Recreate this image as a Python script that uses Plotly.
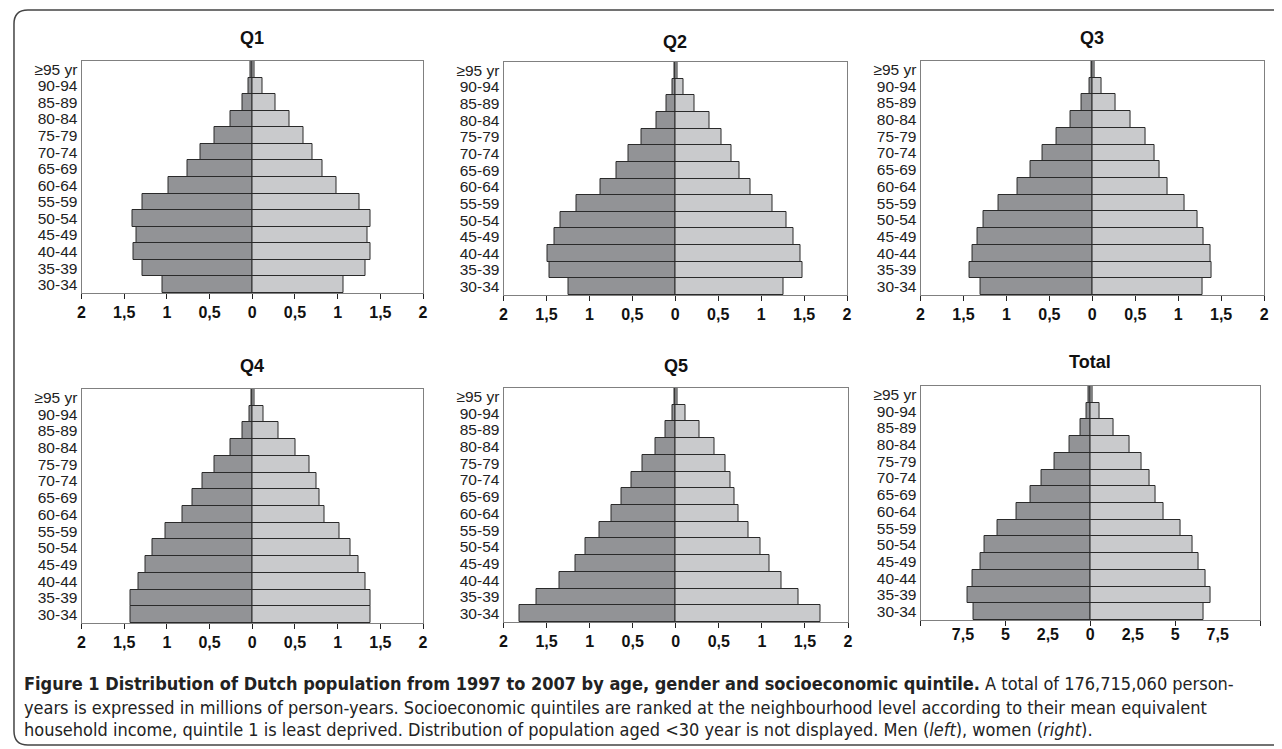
import plotly.graph_objects as go

OFF = 8                    # page body margin of the exported html
W, H = 1282 - OFF, 749 - OFF

age_groups = ["30-34", "35-39", "40-44", "45-49", "50-54", "55-59", "60-64",
              "65-69", "70-74", "75-79", "80-84", "85-89", "90-94", "≥95 yr"]

panel_titles = ["Q1", "Q2", "Q3", "Q4", "Q5", "Total"]

# millions of person-years, listed from 30-34 up to >=95
men_q1 = [1.05, 1.28, 1.39, 1.36, 1.40, 1.28, 0.98, 0.76, 0.61, 0.44, 0.26, 0.11, 0.04, 0.02]
women_q1 = [1.07, 1.33, 1.39, 1.35, 1.39, 1.26, 0.99, 0.82, 0.71, 0.60, 0.43, 0.27, 0.12, 0.03]
men_q2 = [1.24, 1.47, 1.49, 1.41, 1.34, 1.15, 0.87, 0.69, 0.55, 0.39, 0.22, 0.10, 0.03, 0.01]
women_q2 = [1.26, 1.48, 1.46, 1.38, 1.30, 1.13, 0.88, 0.75, 0.65, 0.54, 0.40, 0.22, 0.10, 0.03]
men_q3 = [1.30, 1.43, 1.40, 1.34, 1.27, 1.09, 0.87, 0.72, 0.58, 0.42, 0.25, 0.12, 0.03, 0.01]
women_q3 = [1.28, 1.39, 1.38, 1.30, 1.23, 1.07, 0.87, 0.78, 0.72, 0.62, 0.45, 0.27, 0.11, 0.03]
men_q4 = [1.43, 1.43, 1.33, 1.25, 1.17, 1.02, 0.82, 0.70, 0.58, 0.44, 0.26, 0.12, 0.03, 0.01]
women_q4 = [1.38, 1.38, 1.32, 1.24, 1.15, 1.02, 0.85, 0.79, 0.75, 0.67, 0.51, 0.31, 0.13, 0.03]
men_q5 = [1.82, 1.62, 1.35, 1.16, 1.05, 0.89, 0.75, 0.63, 0.51, 0.39, 0.24, 0.12, 0.04, 0.02]
women_q5 = [1.68, 1.42, 1.23, 1.09, 0.98, 0.85, 0.73, 0.68, 0.63, 0.58, 0.45, 0.28, 0.11, 0.02]
men_total = [6.86, 7.23, 6.91, 6.48, 6.23, 5.45, 4.34, 3.54, 2.85, 2.11, 1.23, 0.59, 0.21, 0.08]
women_total = [6.66, 7.05, 6.78, 6.35, 6.04, 5.29, 4.32, 3.83, 3.46, 3.01, 2.29, 1.35, 0.53, 0.14]

men_series = [men_q1, men_q2, men_q3, men_q4, men_q5, men_total]
women_series = [women_q1, women_q2, women_q3, women_q4, women_q5, women_total]

q_tickvals = [-2, -1.5, -1, -0.5, 0, 0.5, 1, 1.5, 2]
q_ticktext = ["2", "1,5", "1", "0,5", "0", "0,5", "1", "1,5", "2"]
t_tickvals = [-7.5, -5, -2.5, 0, 2.5, 5, 7.5]
t_ticktext = ["7,5", "5", "2,5", "0", "2,5", "5", "7,5"]


def fx(px):
    return (px - OFF) / W


def fy(py):
    return 1 - (py - OFF) / H


# plot-area boxes in page pixels (x0, x1, y_top, y_bottom)
boxes = [(78, 422, 61, 293), (503, 849, 62, 295), (923, 1269, 61, 295),
         (78, 422, 389, 623), (503, 850, 388, 622), (923, 1265, 386, 620)]
title_y = [38, 42, 38, 366, 366, 362]

MEN_C = "#929396"
WOMEN_C = "#c9cacc"
EDGE = "#2a2a2a"

fig = go.Figure()
layout = dict(width=W, height=H, margin=dict(l=0, r=0, t=0, b=0),
              paper_bgcolor="white", plot_bgcolor="white", showlegend=False,
              barmode="overlay", bargap=0,
              font=dict(family="Liberation Sans, Arial, sans-serif", color="#222"))

annotations = []
for i in range(6):
    n = i + 1
    xa = "x" if n == 1 else f"x{n}"
    ya = "y" if n == 1 else f"y{n}"
    fig.add_trace(go.Bar(y=age_groups, x=[-v for v in men_series[i]], orientation="h",
                         marker=dict(color=MEN_C, line=dict(color=EDGE, width=1)),
                         xaxis=xa, yaxis=ya, name="Men"))
    fig.add_trace(go.Bar(y=age_groups, x=women_series[i], orientation="h",
                         marker=dict(color=WOMEN_C, line=dict(color=EDGE, width=1)),
                         xaxis=xa, yaxis=ya, name="Women"))
    x0, x1, yt, yb = boxes[i]
    xkey = "xaxis" if n == 1 else f"xaxis{n}"
    ykey = "yaxis" if n == 1 else f"yaxis{n}"
    xdict = dict(domain=[fx(x0), fx(x1)], anchor=ya, showgrid=False, zeroline=False,
                 showline=True, linecolor="#808080", linewidth=1, mirror=True,
                 tickfont=dict(size=16, family="Liberation Sans, Arial", color="#111",
                               weight="bold"),
                 tickcolor="#222", fixedrange=True)
    if i < 5:
        xdict.update(range=[-2, 2], tickmode="array", tickvals=q_tickvals,
                     ticktext=q_ticktext, ticks="outside", ticklen=5)
    else:
        xdict.update(range=[-10, 10], tickmode="array", tickvals=t_tickvals,
                     ticktext=t_ticktext, ticks="",
                     minor=dict(tickmode="linear", tick0=0, dtick=5, ticks="outside",
                                ticklen=5, tickcolor="#222", showgrid=False))
    layout[xkey] = xdict
    layout[ykey] = dict(domain=[fy(yb), fy(yt)], anchor=xa, type="category",
                        categoryorder="array", categoryarray=age_groups,
                        tickmode="array", tickvals=age_groups, ticktext=age_groups,
                        showgrid=False, zeroline=False, showline=True,
                        linecolor="#808080", linewidth=1, mirror=True, ticks="",
                        tickfont=dict(size=15.5, color="#222"), ticklabelstandoff=0,
                        fixedrange=True)
    annotations.append(dict(text=f"<b>{panel_titles[i]}</b>", x=fx((x0 + x1) / 2),
                            y=fy(title_y[i]), xref="paper", yref="paper",
                            showarrow=False, xanchor="center", yanchor="middle",
                            font=dict(size=18, color="#111")))

cap_font = dict(family="Liberation Sans Narrow, DejaVu Sans Condensed, Arial Narrow, sans-serif",
                size=18, color="#222")
caption = [
    "<b>Figure 1 Distribution of Dutch population from 1997 to 2007 by age, gender and "
    "socioeconomic quintile.</b> A total of 176,715,060 person-",
    "years is expressed in millions of person-years. Socioeconomic quintiles are ranked at "
    "the neighbourhood level according to their mean equivalent",
    "household income, quintile 1 is least deprived. Distribution of population aged &lt;30 "
    "year is not displayed. Men (<i>left</i>), women (<i>right</i>).",
]
cap_y = [683, 707, 729]
for txt, cy in zip(caption, cap_y):
    annotations.append(dict(text=txt, x=fx(18), y=fy(cy), xref="paper", yref="paper",
                            showarrow=False, xanchor="left", yanchor="middle",
                            font=cap_font, align="left"))

layout["annotations"] = annotations

# rounded outer frame (page pixels)
r = 14
x0f, y0f, x1f, y1f = 10, 10, 1300, 745
pts_path = (f"M {x0f+r},{y0f} L {x1f},{y0f} L {x1f},{y1f} L {x0f+r},{y1f} "
            f"Q {x0f},{y1f} {x0f},{y1f-r} L {x0f},{y0f+r} Q {x0f},{y0f} {x0f+r},{y0f} Z")


def px_path(p):
    out = []
    for tok in p.split():
        if "," in tok:
            a, b = tok.split(",")
            out.append(f"{fx(float(a)):.5f},{fy(float(b)):.5f}")
        else:
            out.append(tok)
    return " ".join(out)


layout["shapes"] = [dict(type="path", path=px_path(pts_path), xref="paper", yref="paper",
                         line=dict(color="#444", width=1.5), layer="below")]

fig.update_layout(**layout)
fig.write_html("out.html")
